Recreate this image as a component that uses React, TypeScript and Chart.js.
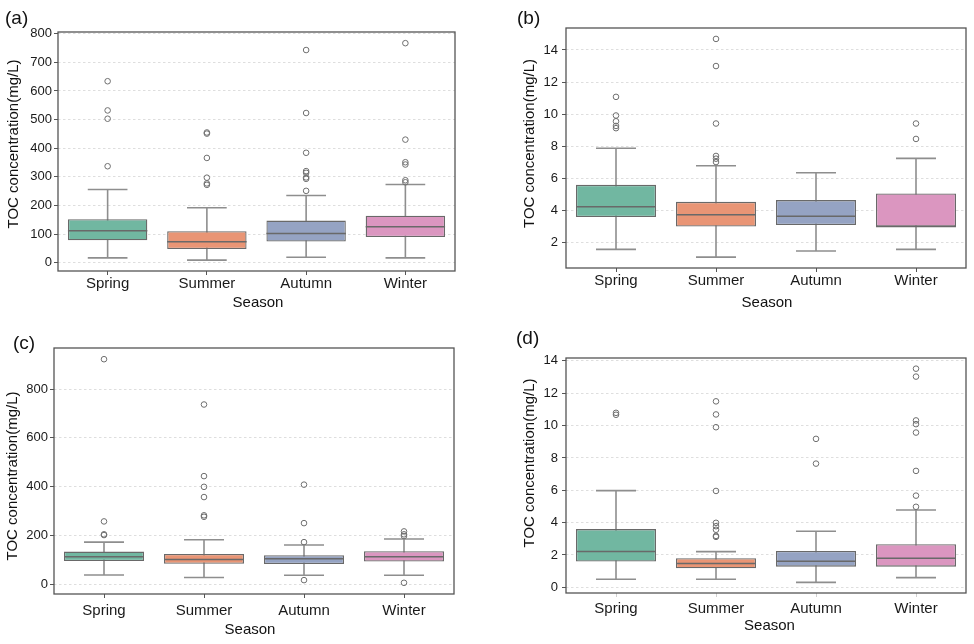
import { useEffect, useRef } from 'react';
import { Chart, registerables } from 'chart.js';

Chart.register(...registerables);

const seasons = ['Spring', 'Summer', 'Autumn', 'Winter'];
const boxColors = ['#71b7a1', '#e99575', '#95a3c3', '#db96c0'];

// (a)
const aLower = [17, 9, 19, 17];
const aQ1 = [78, 48, 74, 90];
const aMedian = [112, 73, 102, 126];
const aQ3 = [152, 110, 147, 164];
const aUpper = [256, 192, 235, 273];
const aOutliers = [
  [337, 503, 532, 634],
  [272, 277, 297, 366, 451, 455],
  [251, 293, 298, 314, 320, 384, 523, 743],
  [281, 288, 343, 351, 430, 767],
];
const aTicks = [0, 100, 200, 300, 400, 500, 600, 700, 800];

// (b)
const bLower = [1.58, 1.1, 1.48, 1.58];
const bQ1 = [3.6, 3.0, 3.1, 3.0];
const bMedian = [4.23, 3.73, 3.65, 3.0];
const bQ3 = [5.6, 4.54, 4.65, 5.06];
const bUpper = [7.88, 6.79, 6.35, 7.25];
const bOutliers = [
  [9.13, 9.27, 9.56, 9.92, 11.08],
  [7.02, 7.23, 7.4, 9.42, 13.0, 14.69],
  [],
  [8.46, 9.42],
];
const bTicks = [2, 4, 6, 8, 10, 12, 14];

// (c)
const cLower = [37, 27, 36, 36];
const cQ1 = [94, 83, 82, 92];
const cMedian = [112, 101, 104, 112];
const cQ3 = [133, 123, 118, 135];
const cUpper = [172, 182, 160, 185];
const cOutliers = [
  [201, 204, 257, 923],
  [276, 282, 357, 399, 443, 737],
  [16, 172, 250, 408],
  [5, 197, 204, 216],
];
const cTicks = [0, 200, 400, 600, 800];

// (d)
const dLower = [0.5, 0.5, 0.31, 0.6];
const dQ1 = [1.59, 1.18, 1.28, 1.28];
const dMedian = [2.21, 1.47, 1.61, 1.8];
const dQ3 = [3.6, 1.8, 2.25, 2.67];
const dUpper = [5.98, 2.21, 3.47, 4.78];
const dOutliers = [
  [10.67, 10.79],
  [3.12, 3.18, 3.56, 3.78, 3.99, 5.96, 9.9, 10.69, 11.5],
  [7.65, 9.18],
  [4.98, 5.67, 7.2, 9.57, 10.09, 10.32, 13.03, 13.52],
];
const dTicks = [0, 2, 4, 6, 8, 10, 12, 14];

const FONT = '"Liberation Sans", Arial, Helvetica, sans-serif';
const Y_TITLE = 'TOC concentration(mg/L)';
const X_TITLE = 'Season';

type Stats = {
  lower: number[];
  q1: number[];
  median: number[];
  q3: number[];
  upper: number[];
  outliers: number[][];
  ticks: number[];
};

type PanelDef = {
  key: string;
  label: string;
  stats: Stats;
  // canvas placement on the page
  x: number;
  y: number;
  w: number;
  h: number;
  // plot frame on the page
  area: { l: number; t: number; r: number; b: number };
  yMin: number;
  yMax: number;
  yTickPad: number;
  xTickPad: number;
  xTickColor: string;
  // text anchors, canvas-local
  yTitle: [number, number];
  xTitle: [number, number];
  labelPos: [number, number];
};

const panels: PanelDef[] = [
  {
    key: 'a', label: '(a)',
    stats: { lower: aLower, q1: aQ1, median: aMedian, q3: aQ3, upper: aUpper, outliers: aOutliers, ticks: aTicks },
    x: 0, y: 0, w: 487, h: 310,
    area: { l: 58, t: 32, r: 455, b: 271 },
    yMin: -29, yMax: 806, yTickPad: 2, xTickPad: 0, xTickColor: '#555',
    yTitle: [14, 144], xTitle: [258, 302.5], labelPos: [5, 24],
  },
  {
    key: 'b', label: '(b)',
    stats: { lower: bLower, q1: bQ1, median: bMedian, q3: bQ3, upper: bUpper, outliers: bOutliers, ticks: bTicks },
    x: 487, y: 0, w: 487, h: 310,
    area: { l: 566, t: 28, r: 966, b: 268 },
    yMin: 0.42, yMax: 15.37, yTickPad: 4, xTickPad: 0, xTickColor: '#555',
    yTitle: [43, 143.5], xTitle: [280, 302.5], labelPos: [30, 24],
  },
  {
    key: 'c', label: '(c)',
    stats: { lower: cLower, q1: cQ1, median: cMedian, q3: cQ3, upper: cUpper, outliers: cOutliers, ticks: cTicks },
    x: 0, y: 310, w: 487, h: 334,
    area: { l: 54, t: 348, r: 454, b: 594 },
    yMin: -41, yMax: 969, yTickPad: 2, xTickPad: 4, xTickColor: '#555',
    yTitle: [12.5, 166], xTitle: [250, 319.5], labelPos: [13, 39],
  },
  {
    key: 'd', label: '(d)',
    stats: { lower: dLower, q1: dQ1, median: dMedian, q3: dQ3, upper: dUpper, outliers: dOutliers, ticks: dTicks },
    x: 487, y: 310, w: 487, h: 334,
    area: { l: 566, t: 358, r: 966, b: 593 },
    yMin: -0.35, yMax: 14.18, yTickPad: 4, xTickPad: 3, xTickColor: '#d0d0d0',
    yTitle: [43, 153], xTitle: [282.5, 316], labelPos: [29, 34],
  },
];

const WHISKER = '#8e8e8e';
const EDGE = '#696969';
const FRAME = '#555555';

function makeBoxPlugin(p: PanelDef) {
  const s = p.stats;
  return {
    id: 'boxParts-' + p.key,
    beforeDatasetsDraw(chart: any) {
      const { ctx } = chart;
      const xs = chart.scales.x;
      const ys = chart.scales.y;
      const bars = chart.getDatasetMeta(0).data;
      ctx.save();
      ctx.strokeStyle = WHISKER;
      ctx.lineWidth = 1.6;
      seasons.forEach((_, i) => {
        const cx = xs.getPixelForValue(i);
        const cap = bars[i].width / 4;
        const yLo = ys.getPixelForValue(s.lower[i]);
        const yHi = ys.getPixelForValue(s.upper[i]);
        ctx.beginPath();
        ctx.moveTo(cx, yLo);
        ctx.lineTo(cx, yHi);
        ctx.moveTo(cx - cap, yLo);
        ctx.lineTo(cx + cap, yLo);
        ctx.moveTo(cx - cap, yHi);
        ctx.lineTo(cx + cap, yHi);
        ctx.stroke();
      });
      ctx.restore();
    },
    afterDatasetsDraw(chart: any) {
      const { ctx } = chart;
      const xs = chart.scales.x;
      const ys = chart.scales.y;
      const bars = chart.getDatasetMeta(0).data;
      ctx.save();
      ctx.strokeStyle = EDGE;
      ctx.lineWidth = 1.5;
      seasons.forEach((_, i) => {
        const cx = xs.getPixelForValue(i);
        const half = bars[i].width / 2;
        const ym = ys.getPixelForValue(s.median[i]);
        ctx.beginPath();
        ctx.moveTo(cx - half, ym);
        ctx.lineTo(cx + half, ym);
        ctx.stroke();
      });
      ctx.restore();
    },
    afterDraw(chart: any) {
      const { ctx, chartArea } = chart;
      ctx.save();
      ctx.strokeStyle = FRAME;
      ctx.lineWidth = 1.3;
      ctx.strokeRect(chartArea.left, chartArea.top, chartArea.right - chartArea.left, chartArea.bottom - chartArea.top);

      ctx.fillStyle = '#111';
      ctx.font = `15px ${FONT}`;
      ctx.textAlign = 'center';
      ctx.textBaseline = 'middle';
      ctx.fillText(X_TITLE, p.xTitle[0], p.xTitle[1]);

      ctx.save();
      ctx.translate(p.yTitle[0], p.yTitle[1]);
      ctx.rotate(-Math.PI / 2);
      ctx.fillText(Y_TITLE, 0, 0);
      ctx.restore();

      ctx.font = `19px ${FONT}`;
      ctx.textAlign = 'left';
      ctx.textBaseline = 'alphabetic';
      ctx.fillText(p.label, p.labelPos[0], p.labelPos[1]);
      ctx.restore();
    },
  };
}

function BoxPanel({ p }: { p: PanelDef }) {
  const ref = useRef<HTMLCanvasElement | null>(null);

  useEffect(() => {
    if (!ref.current) return;
    const s = p.stats;
    const yAxisWidth = p.area.l - p.x;
    const xAxisHeight = p.y + p.h - p.area.b;

    const outlierPoints: { x: string; y: number }[] = [];
    s.outliers.forEach((vals, i) => vals.forEach((v) => outlierPoints.push({ x: seasons[i], y: v })));

    const chart = new Chart(ref.current, {
      type: 'bar',
      data: {
        labels: seasons,
        datasets: [
          {
            type: 'bar',
            data: seasons.map((_, i) => [s.q1[i], s.q3[i]]) as any,
            backgroundColor: boxColors,
            borderColor: EDGE,
            borderWidth: 1.3,
            borderSkipped: false,
            barPercentage: 0.8,
            categoryPercentage: 1,
          },
          {
            type: 'line',
            data: outlierPoints as any,
            showLine: false,
            pointRadius: 2.8,
            pointBorderWidth: 1,
            pointBorderColor: '#6f6f6f',
            pointBackgroundColor: 'rgba(255,255,255,0)',
          },
        ],
      },
      options: {
        responsive: false,
        animation: false,
        events: [],
        devicePixelRatio: 1,
        layout: {
          padding: { left: 0, bottom: 0, top: p.area.t - p.y, right: p.x + p.w - p.area.r },
        },
        plugins: { legend: { display: false }, tooltip: { enabled: false } },
        scales: {
          x: {
            type: 'category',
            offset: true,
            afterFit: (scale: any) => {
              scale.height = xAxisHeight;
            },
            grid: {
              display: true,
              drawOnChartArea: false,
              drawTicks: true,
              offset: false,
              tickLength: 4,
              tickColor: p.xTickColor,
              tickWidth: 1,
            },
            border: { display: false },
            ticks: {
              color: '#1a1a1a',
              font: { family: FONT, size: 15 },
              padding: p.xTickPad,
              maxRotation: 0,
            },
          },
          y: {
            type: 'linear',
            min: p.yMin,
            max: p.yMax,
            afterFit: (scale: any) => {
              scale.width = yAxisWidth;
            },
            afterBuildTicks: (scale: any) => {
              scale.ticks = s.ticks.map((v) => ({ value: v }));
            },
            grid: {
              display: true,
              drawOnChartArea: true,
              drawTicks: true,
              tickLength: 4,
              color: '#d6d6d6',
              lineWidth: 0.8,
              tickColor: '#555',
              tickWidth: 1,
            },
            border: { display: false, dash: [2.5, 2.5] },
            ticks: {
              color: '#1a1a1a',
              font: { family: FONT, size: 13 },
              padding: p.yTickPad,
              callback: (v: any) => String(v),
            },
          },
        },
      },
      plugins: [makeBoxPlugin(p)],
    } as any);

    return () => chart.destroy();
  }, [p]);

  return (
    <canvas
      ref={ref}
      width={p.w}
      height={p.h}
      style={{ position: 'absolute', left: p.x, top: p.y, width: p.w, height: p.h }}
    />
  );
}

export default function App() {
  return (
    <div style={{ position: 'absolute', left: 0, top: 0, width: 974, height: 644, background: '#fff' }}>
      {panels.map((p) => (
        <BoxPanel key={p.key} p={p} />
      ))}
    </div>
  );
}
